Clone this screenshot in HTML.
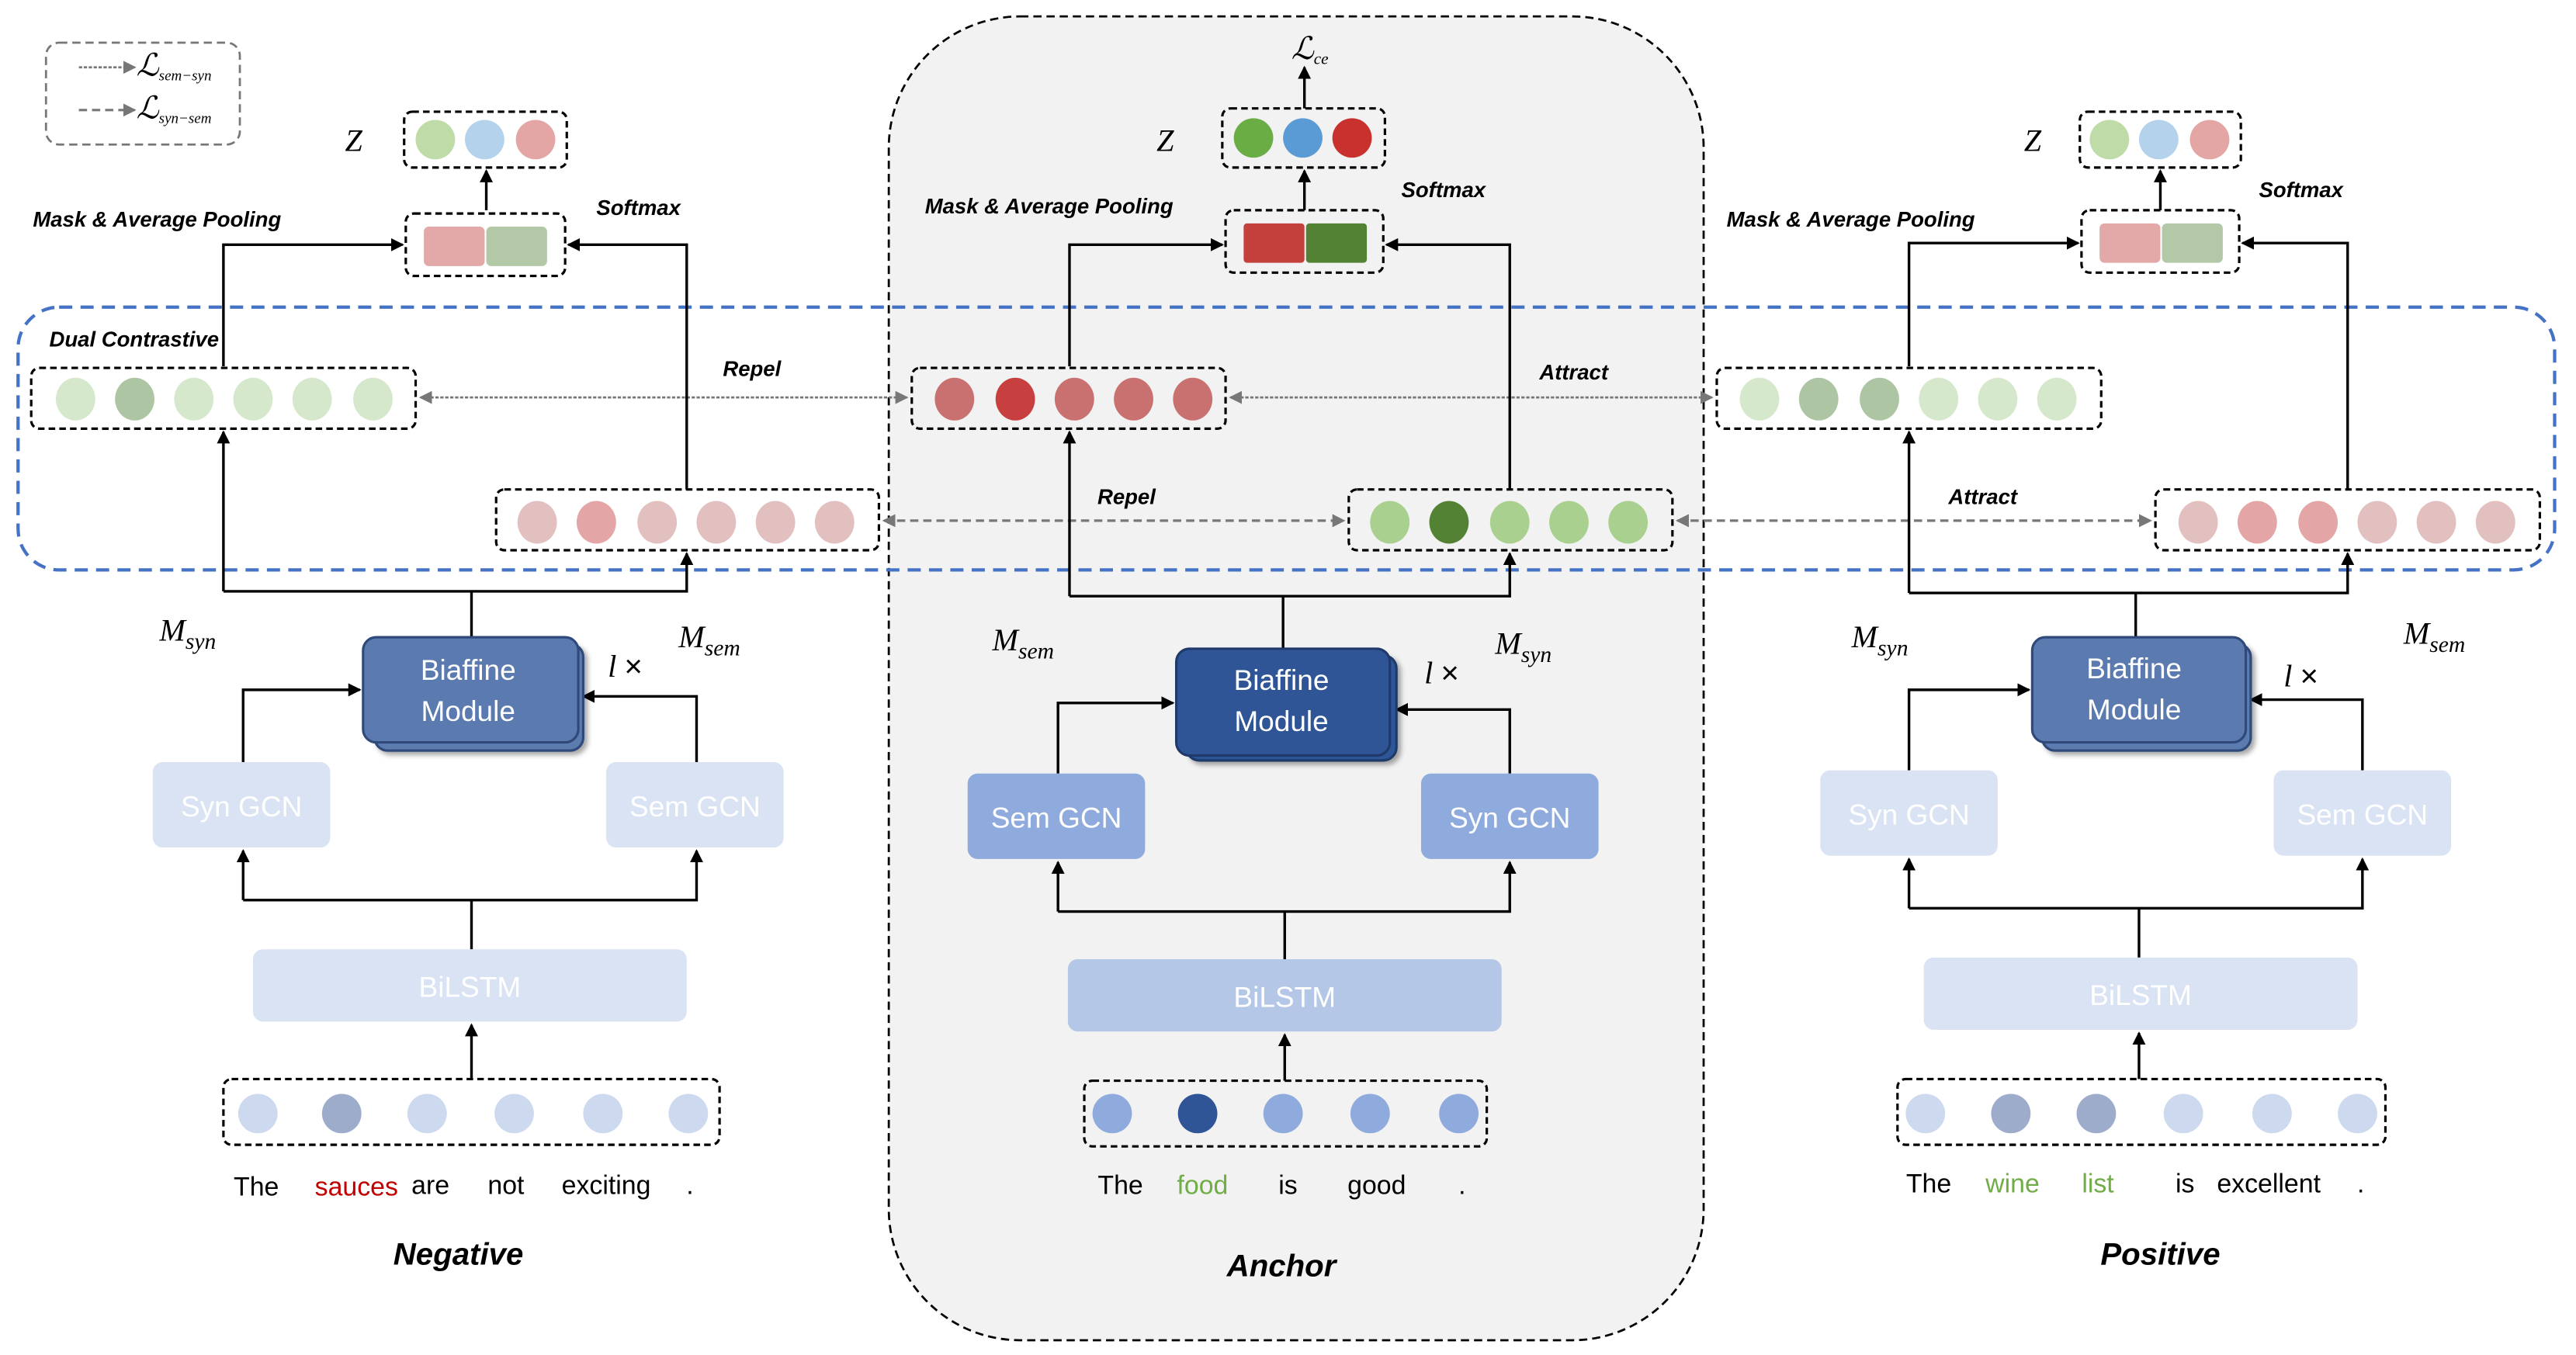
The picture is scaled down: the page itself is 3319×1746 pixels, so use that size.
<!DOCTYPE html>
<html><head><meta charset="utf-8"><style>
html,body{margin:0;padding:0;background:#fff;}
svg{display:block;}
.lbl{font-family:"Liberation Sans",sans-serif;font-style:italic;font-weight:bold;font-size:13px;fill:#000;}
.m{font-family:"Liberation Serif",serif;font-style:italic;font-size:19px;fill:#000;}
.w{font-family:"Liberation Sans",sans-serif;font-size:16px;fill:#000;text-anchor:middle;}
.bx{font-family:"Liberation Sans",sans-serif;font-size:17.5px;fill:#fff;text-anchor:middle;}
.big{font-family:"Liberation Sans",sans-serif;font-style:italic;font-weight:bold;font-size:19px;fill:#000;text-anchor:middle;}
</style></head><body>
<svg width="3319" height="1746" viewBox="0 0 1568 825" preserveAspectRatio="none" xmlns="http://www.w3.org/2000/svg">
<defs>
<marker id="ab" markerWidth="8" markerHeight="8" refX="7" refY="4" orient="auto" markerUnits="userSpaceOnUse"><path d="M0,0 L8,4 L0,8 z" fill="#000"/></marker>
<marker id="ag" markerWidth="8" markerHeight="8" refX="7" refY="4" orient="auto-start-reverse" markerUnits="userSpaceOnUse"><path d="M0,0 L8,4 L0,8 z" fill="#777"/></marker>
<filter id="sh"><feDropShadow dx="2" dy="2" stdDeviation="1.5" flood-opacity="0.35"/></filter>
</defs>
<rect width="1568" height="825" fill="#fff"/>
<rect x="541" y="10" width="496" height="806" rx="80" fill="#f2f2f2" stroke="#000" stroke-dasharray="5,3" stroke-width="1.3"/>
<rect x="28" y="26" width="118" height="62" rx="8" fill="none" stroke="#777" stroke-dasharray="5,3" stroke-width="1.3"/>
<line x1="48" y1="41" x2="82" y2="41" stroke="#777" stroke-dasharray="2,1" stroke-width="1.3" marker-end="url(#ag)"/>
<text x="83" y="46" class="m" font-size="11">ℒ<tspan font-size="9" dy="3">sem−syn</tspan></text>
<line x1="48" y1="67" x2="82" y2="67" stroke="#777" stroke-dasharray="5,3" stroke-width="1.5" marker-end="url(#ag)"/>
<text x="83" y="72" class="m" font-size="11">ℒ<tspan font-size="9" dy="3">syn−sem</tspan></text>
<rect x="11" y="187" width="1544" height="160" rx="25" fill="none" stroke="#4472c4" stroke-dasharray="8,5" stroke-width="2"/>
<text x="30" y="211" class="lbl">Dual Contrastive</text>

<line x1="256" y1="242" x2="552" y2="242" stroke="#777" stroke-dasharray="2,1" stroke-width="1.3" marker-start="url(#ag)" marker-end="url(#ag)"/>
<text x="440" y="229" class="lbl">Repel</text>
<line x1="749" y1="242" x2="1042" y2="242" stroke="#777" stroke-dasharray="2,1" stroke-width="1.3" marker-start="url(#ag)" marker-end="url(#ag)"/>
<text x="937" y="231" class="lbl">Attract</text>
<line x1="538" y1="317" x2="818" y2="317" stroke="#777" stroke-dasharray="5,3" stroke-width="1.5" marker-start="url(#ag)" marker-end="url(#ag)"/>
<text x="668" y="307" class="lbl">Repel</text>
<line x1="1021" y1="317" x2="1309" y2="317" stroke="#777" stroke-dasharray="5,3" stroke-width="1.5" marker-start="url(#ag)" marker-end="url(#ag)"/>
<text x="1186" y="307" class="lbl">Attract</text>

<g stroke-width="1.6" fill="none" stroke="#000">
<polyline points="136,223 136,149 245,149" marker-end="url(#ab)"/>
<polyline points="418,298 418,149 346,149" marker-end="url(#ab)"/>
<line x1="296" y1="128" x2="296" y2="104" marker-end="url(#ab)"/>
<line x1="287" y1="388" x2="287" y2="360"/>
<polyline points="136,360 136,263" marker-end="url(#ab)"/>
<polyline points="136,360 418,360 418,337" marker-end="url(#ab)"/>
<polyline points="148,464 148,420 219,420" marker-end="url(#ab)"/>
<polyline points="424,464 424,424 355,424" marker-end="url(#ab)"/>
<line x1="287" y1="578" x2="287" y2="548"/>
<polyline points="148,548 148,518" marker-end="url(#ab)"/>
<polyline points="148,548 424,548 424,518" marker-end="url(#ab)"/>
<line x1="287" y1="657" x2="287" y2="624" marker-end="url(#ab)"/>
<line x1="794" y1="66" x2="794" y2="41" marker-end="url(#ab)"/>
<line x1="794" y1="128" x2="794" y2="104" marker-end="url(#ab)"/>
<polyline points="651,223 651,149 744,149" marker-end="url(#ab)"/>
<polyline points="919,298 919,149 844,149" marker-end="url(#ab)"/>
<line x1="781" y1="395" x2="781" y2="363"/>
<polyline points="651,363 651,263" marker-end="url(#ab)"/>
<polyline points="651,363 919,363 919,337" marker-end="url(#ab)"/>
<polyline points="644,471 644,428 714,428" marker-end="url(#ab)"/>
<polyline points="919,471 919,432 850,432" marker-end="url(#ab)"/>
<line x1="782" y1="584" x2="782" y2="555"/>
<polyline points="644,555 644,525" marker-end="url(#ab)"/>
<polyline points="644,555 919,555 919,525" marker-end="url(#ab)"/>
<line x1="782" y1="658" x2="782" y2="630" marker-end="url(#ab)"/>
<line x1="1315" y1="128" x2="1315" y2="104" marker-end="url(#ab)"/>
<polyline points="1162,223 1162,148 1265,148" marker-end="url(#ab)"/>
<polyline points="1429,298 1429,148 1365,148" marker-end="url(#ab)"/>
<line x1="1300" y1="388" x2="1300" y2="361"/>
<polyline points="1162,361 1162,263" marker-end="url(#ab)"/>
<polyline points="1162,361 1429,361 1429,337" marker-end="url(#ab)"/>
<polyline points="1162,469 1162,420 1235,420" marker-end="url(#ab)"/>
<polyline points="1438,469 1438,426 1370,426" marker-end="url(#ab)"/>
<line x1="1302" y1="583" x2="1302" y2="553"/>
<polyline points="1162,553 1162,523" marker-end="url(#ab)"/>
<polyline points="1162,553 1438,553 1438,523" marker-end="url(#ab)"/>
<line x1="1302" y1="657" x2="1302" y2="629" marker-end="url(#ab)"/>
</g>

<g fill="none" stroke="#000" stroke-width="1.5" stroke-dasharray="4,2.5">
<rect x="246" y="68" width="99" height="34" rx="5"/>
<rect x="247" y="130" width="97" height="38" rx="5"/>
<rect x="19" y="224" width="234" height="37" rx="5"/>
<rect x="302" y="298" width="233" height="37" rx="5"/>
<rect x="136" y="657" width="302" height="40" rx="5"/>
<rect x="744" y="66" width="99" height="36" rx="5"/>
<rect x="746" y="128" width="96" height="38" rx="5"/>
<rect x="555" y="224" width="191" height="37" rx="5"/>
<rect x="821" y="298" width="197" height="37" rx="5"/>
<rect x="660" y="658" width="245" height="40" rx="5"/>
<rect x="1266" y="68" width="98" height="34" rx="5"/>
<rect x="1267" y="128" width="96" height="38" rx="5"/>
<rect x="1045" y="224" width="234" height="37" rx="5"/>
<rect x="1312" y="298" width="234" height="37" rx="5"/>
<rect x="1155" y="657" width="297" height="40" rx="5"/>
</g>

<text x="210" y="92" class="m" font-size="15">Z</text>
<ellipse cx="265" cy="85" rx="12" ry="12" fill="#bedba8"/><ellipse cx="295" cy="85" rx="12" ry="12" fill="#b4d2ec"/><ellipse cx="326" cy="85" rx="12" ry="12" fill="#e4a5a5"/>
<rect x="258" y="138" width="37" height="24" rx="3" fill="#e3a8a8"/><rect x="296" y="138" width="37" height="24" rx="3" fill="#b3c8a7"/>
<text x="20" y="138" class="lbl">Mask &amp; Average Pooling</text>
<text x="363" y="131" class="lbl">Softmax</text>
<g fill="#d5e8cc"><ellipse cx="46" cy="243" rx="12" ry="13"/><ellipse cx="82" cy="243" rx="12" ry="13" fill="#adc5a2"/><ellipse cx="118" cy="243" rx="12" ry="13"/><ellipse cx="154" cy="243" rx="12" ry="13"/><ellipse cx="190" cy="243" rx="12" ry="13"/><ellipse cx="227" cy="243" rx="12" ry="13"/></g>
<g fill="#e3c0c0"><ellipse cx="327" cy="318" rx="12" ry="13"/><ellipse cx="363" cy="318" rx="12" ry="13" fill="#e3a5a5"/><ellipse cx="400" cy="318" rx="12" ry="13"/><ellipse cx="436" cy="318" rx="12" ry="13"/><ellipse cx="472" cy="318" rx="12" ry="13"/><ellipse cx="508" cy="318" rx="12" ry="13"/></g>
<rect x="228" y="392" width="127" height="65" rx="8" fill="#5b7bb0" stroke="#2f4a7a" stroke-width="1.5" filter="url(#sh)"/>
<rect x="221" y="388" width="131" height="64" rx="8" fill="#5b7bb0" stroke="#2f4a7a" stroke-width="1.5"/>
<text x="285" y="414" class="bx">Biaffine</text><text x="285" y="439" class="bx">Module</text>
<text x="97" y="390" class="m">M<tspan font-size="14" dy="5">syn</tspan></text>
<text x="413" y="394" class="m">M<tspan font-size="14" dy="5">sem</tspan></text>
<text x="370" y="412" class="m" font-size="15">l <tspan font-style="normal" font-family="Liberation Sans">×</tspan></text>
<rect x="93" y="464" width="108" height="52" rx="6" fill="#dae3f3"/><text x="147" y="497" class="bx">Syn GCN</text>
<rect x="369" y="464" width="108" height="52" rx="6" fill="#dae3f3"/><text x="423" y="497" class="bx">Sem GCN</text>
<rect x="154" y="578" width="264" height="44" rx="6" fill="#dae3f3"/><text x="286" y="607" class="bx">BiLSTM</text>
<g fill="#cdd9ee"><ellipse cx="157" cy="678" rx="12" ry="12"/><ellipse cx="208" cy="678" rx="12" ry="12" fill="#9eaccb"/><ellipse cx="260" cy="678" rx="12" ry="12"/><ellipse cx="313" cy="678" rx="12" ry="12"/><ellipse cx="367" cy="678" rx="12" ry="12"/><ellipse cx="419" cy="678" rx="12" ry="12"/></g>
<text x="156" y="728" class="w">The</text><text x="217" y="728" class="w" style="fill:#c00000">sauces</text><text x="262" y="727" class="w">are</text><text x="308" y="727" class="w">not</text><text x="369" y="727" class="w">exciting</text><text x="420" y="727" class="w">.</text>
<text x="279" y="770" class="big">Negative</text>

<text x="786" y="36" class="m" font-size="13">ℒ<tspan font-size="10" dy="3">ce</tspan></text>
<text x="704" y="92" class="m" font-size="15">Z</text>
<ellipse cx="763" cy="84" rx="12" ry="12" fill="#6aad45"/><ellipse cx="793" cy="84" rx="12" ry="12" fill="#5b9bd5"/><ellipse cx="823" cy="84" rx="12" ry="12" fill="#c8312e"/>
<rect x="757" y="136" width="37" height="24" rx="2" fill="#c4403c"/><rect x="795" y="136" width="37" height="24" rx="2" fill="#548235"/>
<text x="563" y="130" class="lbl">Mask &amp; Average Pooling</text>
<text x="853" y="120" class="lbl">Softmax</text>
<g fill="#c97171"><ellipse cx="581" cy="243" rx="12" ry="13"/><ellipse cx="618" cy="243" rx="12" ry="13" fill="#c83f3f"/><ellipse cx="654" cy="243" rx="12" ry="13"/><ellipse cx="690" cy="243" rx="12" ry="13"/><ellipse cx="726" cy="243" rx="12" ry="13"/></g>
<g fill="#a9d08e"><ellipse cx="846" cy="318" rx="12" ry="13"/><ellipse cx="882" cy="318" rx="12" ry="13" fill="#548235"/><ellipse cx="919" cy="318" rx="12" ry="13"/><ellipse cx="955" cy="318" rx="12" ry="13"/><ellipse cx="991" cy="318" rx="12" ry="13"/></g>
<rect x="722" y="399" width="128" height="64" rx="8" fill="#2f5597" stroke="#1f3a68" stroke-width="1.5" filter="url(#sh)"/>
<rect x="716" y="395" width="130" height="65" rx="8" fill="#2f5597" stroke="#1f3a68" stroke-width="1.5"/>
<text x="780" y="420" class="bx">Biaffine</text><text x="780" y="445" class="bx">Module</text>
<text x="604" y="396" class="m">M<tspan font-size="14" dy="5">sem</tspan></text>
<text x="910" y="398" class="m">M<tspan font-size="14" dy="5">syn</tspan></text>
<text x="867" y="416" class="m" font-size="15">l <tspan font-style="normal" font-family="Liberation Sans">×</tspan></text>
<rect x="589" y="471" width="108" height="52" rx="6" fill="#8faadc"/><text x="643" y="504" class="bx">Sem GCN</text>
<rect x="865" y="471" width="108" height="52" rx="6" fill="#8faadc"/><text x="919" y="504" class="bx">Syn GCN</text>
<rect x="650" y="584" width="264" height="44" rx="6" fill="#b4c7e7"/><text x="782" y="613" class="bx">BiLSTM</text>
<g fill="#8faadc"><ellipse cx="677" cy="678" rx="12" ry="12"/><ellipse cx="729" cy="678" rx="12" ry="12" fill="#2f5597"/><ellipse cx="781" cy="678" rx="12" ry="12"/><ellipse cx="834" cy="678" rx="12" ry="12"/><ellipse cx="888" cy="678" rx="12" ry="12"/></g>
<text x="682" y="727" class="w">The</text><text x="732" y="727" class="w" style="fill:#70ad47">food</text><text x="784" y="727" class="w">is</text><text x="838" y="727" class="w">good</text><text x="890" y="727" class="w">.</text>
<text x="780" y="777" class="big">Anchor</text>

<text x="1232" y="92" class="m" font-size="15">Z</text>
<ellipse cx="1284" cy="85" rx="12" ry="12" fill="#bedba8"/><ellipse cx="1314" cy="85" rx="12" ry="12" fill="#b4d2ec"/><ellipse cx="1345" cy="85" rx="12" ry="12" fill="#e4a5a5"/>
<rect x="1278" y="136" width="37" height="24" rx="3" fill="#e3a8a8"/><rect x="1316" y="136" width="37" height="24" rx="3" fill="#b3c8a7"/>
<text x="1051" y="138" class="lbl">Mask &amp; Average Pooling</text>
<text x="1375" y="120" class="lbl">Softmax</text>
<g fill="#d5e8cc"><ellipse cx="1071" cy="243" rx="12" ry="13"/><ellipse cx="1107" cy="243" rx="12" ry="13" fill="#adc5a2"/><ellipse cx="1144" cy="243" rx="12" ry="13" fill="#adc5a2"/><ellipse cx="1180" cy="243" rx="12" ry="13"/><ellipse cx="1216" cy="243" rx="12" ry="13"/><ellipse cx="1252" cy="243" rx="12" ry="13"/></g>
<g fill="#e3c0c0"><ellipse cx="1338" cy="318" rx="12" ry="13"/><ellipse cx="1374" cy="318" rx="12" ry="13" fill="#e3a5a5"/><ellipse cx="1411" cy="318" rx="12" ry="13" fill="#e3a5a5"/><ellipse cx="1447" cy="318" rx="12" ry="13"/><ellipse cx="1483" cy="318" rx="12" ry="13"/><ellipse cx="1519" cy="318" rx="12" ry="13"/></g>
<rect x="1243" y="392" width="127" height="65" rx="8" fill="#5b7bb0" stroke="#2f4a7a" stroke-width="1.5" filter="url(#sh)"/>
<rect x="1237" y="388" width="130" height="64" rx="8" fill="#5b7bb0" stroke="#2f4a7a" stroke-width="1.5"/>
<text x="1299" y="413" class="bx">Biaffine</text><text x="1299" y="438" class="bx">Module</text>
<text x="1127" y="394" class="m">M<tspan font-size="14" dy="5">syn</tspan></text>
<text x="1463" y="392" class="m">M<tspan font-size="14" dy="5">sem</tspan></text>
<text x="1390" y="418" class="m" font-size="15">l <tspan font-style="normal" font-family="Liberation Sans">×</tspan></text>
<rect x="1108" y="469" width="108" height="52" rx="6" fill="#dae3f3"/><text x="1162" y="502" class="bx">Syn GCN</text>
<rect x="1384" y="469" width="108" height="52" rx="6" fill="#dae3f3"/><text x="1438" y="502" class="bx">Sem GCN</text>
<rect x="1171" y="583" width="264" height="44" rx="6" fill="#dae3f3"/><text x="1303" y="612" class="bx">BiLSTM</text>
<g fill="#cdd9ee"><ellipse cx="1172" cy="678" rx="12" ry="12"/><ellipse cx="1224" cy="678" rx="12" ry="12" fill="#9eaccb"/><ellipse cx="1276" cy="678" rx="12" ry="12" fill="#9eaccb"/><ellipse cx="1329" cy="678" rx="12" ry="12"/><ellipse cx="1383" cy="678" rx="12" ry="12"/><ellipse cx="1435" cy="678" rx="12" ry="12"/></g>
<text x="1174" y="726" class="w">The</text><text x="1225" y="726" class="w" style="fill:#70ad47">wine</text><text x="1277" y="726" class="w" style="fill:#70ad47">list</text><text x="1330" y="726" class="w">is</text><text x="1381" y="726" class="w">excellent</text><text x="1437" y="726" class="w">.</text>
<text x="1315" y="770" class="big">Positive</text>
</svg>
</body></html>
